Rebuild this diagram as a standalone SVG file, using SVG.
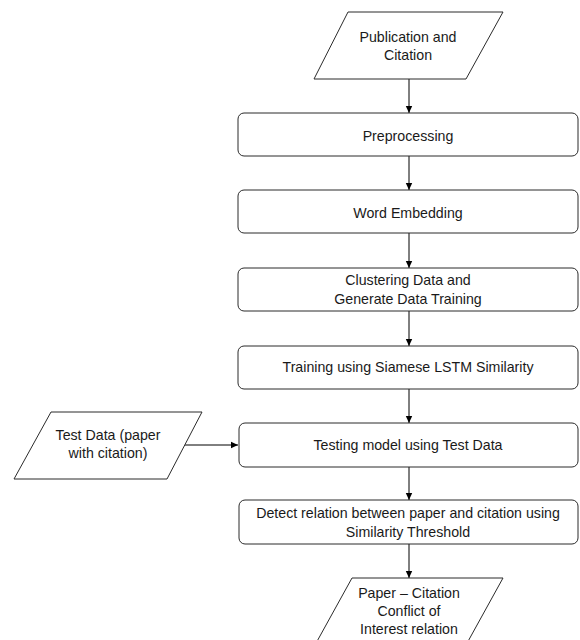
<svg xmlns="http://www.w3.org/2000/svg" width="580" height="640" viewBox="0 0 580 640">
<style>
.box{fill:#fff;stroke:#2b2b2b;stroke-width:1}
.t{font-family:"Liberation Sans",Arial,sans-serif;font-size:14.2px;fill:#1a1a1a;text-anchor:middle;dominant-baseline:central}
.c{stroke:#000;stroke-width:1;fill:none;marker-end:url(#ah)}
</style>
<defs>
<marker id="ah" markerWidth="8" markerHeight="8" refX="7" refY="4" orient="auto" markerUnits="userSpaceOnUse">
<path d="M0,0.8 L7,4 L0,7.2 Z" fill="#000"/>
</marker>
</defs>
<rect width="580" height="640" fill="#fff"/>
<g id="connectors">
<line class="c" x1="409" y1="79" x2="409" y2="113"/>
<line class="c" x1="409" y1="156" x2="409" y2="190"/>
<line class="c" x1="409" y1="233" x2="409" y2="268"/>
<line class="c" x1="409" y1="311" x2="409" y2="346"/>
<line class="c" x1="409" y1="389" x2="409" y2="423"/>
<line class="c" x1="409" y1="467" x2="409" y2="500"/>
<line class="c" x1="409" y1="544" x2="409" y2="578"/>
<line class="c" x1="184" y1="445" x2="238" y2="445"/>
</g>
<g id="publication">
<polygon class="box" points="348,12 503,12 466,79 314,79"/>
<text class="t" x="408" y="37">Publication and</text>
<text class="t" x="408" y="55">Citation</text>
</g>
<g id="preprocessing">
<rect class="box" x="238" y="113" width="340" height="43" rx="6"/>
<text class="t" x="408" y="136">Preprocessing</text>
</g>
<g id="word-embedding">
<rect class="box" x="238" y="190" width="340" height="43" rx="6"/>
<text class="t" x="408" y="213">Word Embedding</text>
</g>
<g id="clustering">
<rect class="box" x="238" y="268" width="340" height="43" rx="6"/>
<text class="t" x="408" y="280">Clustering Data and</text>
<text class="t" x="408" y="299">Generate Data Training</text>
</g>
<g id="training">
<rect class="box" x="238" y="346" width="340" height="43" rx="6"/>
<text class="t" x="408" y="367">Training using Siamese LSTM Similarity</text>
</g>
<g id="testing">
<rect class="box" x="239" y="423" width="339" height="44" rx="6"/>
<text class="t" x="408" y="445">Testing model using Test Data</text>
</g>
<g id="test-data">
<polygon class="box" points="51,412 202,412 167,479 14,479"/>
<text class="t" x="108" y="435">Test Data (paper</text>
<text class="t" x="108" y="453">with citation)</text>
</g>
<g id="detect">
<rect class="box" x="239" y="500" width="339" height="44" rx="6"/>
<text class="t" x="408" y="513">Detect relation between paper and citation using</text>
<text class="t" x="408" y="532">Similarity Threshold</text>
</g>
<g id="result">
<polygon class="box" points="352,578 503,578 466,645 315,645"/>
<text class="t" x="409" y="593">Paper – Citation</text>
<text class="t" x="409" y="611">Conflict of</text>
<text class="t" x="409" y="629">Interest relation</text>
</g>
</svg>
